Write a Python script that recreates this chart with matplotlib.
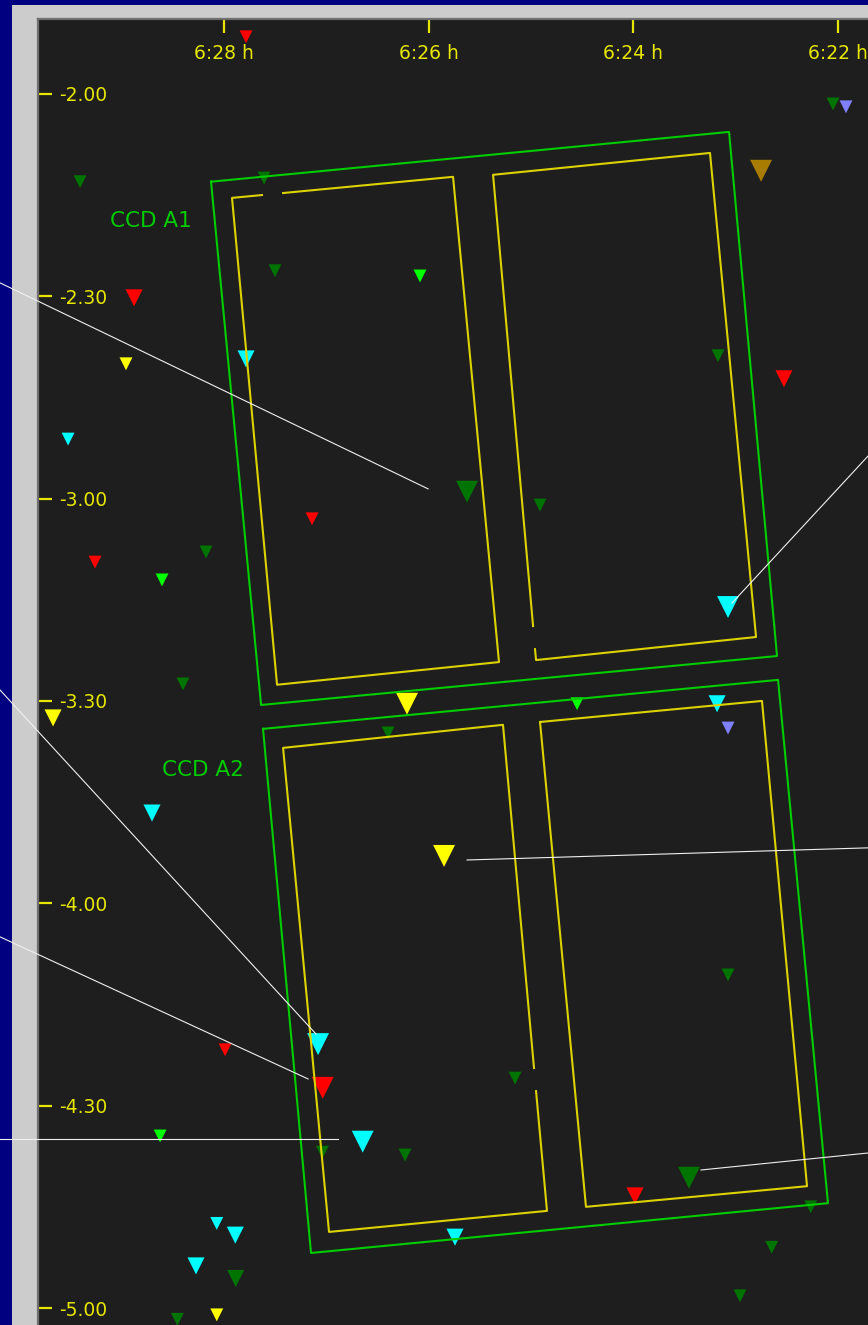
"""
Field-of-view chart: two CCDs (A1 / A2) on the sky with catalogue stars.
"""
import matplotlib
matplotlib.use("Agg")
import matplotlib.pyplot as plt
from matplotlib.patches import Rectangle

# ── Axis ticks (RA in minutes past 6h, Dec in degrees) ───────────────────────
RA_TICKS   = [28, 26, 24, 22]
RA_LABELS  = ["6:28 h", "6:26 h", "6:24 h", "6:22 h"]
DEC_TICKS  = [-2.0, -2.5, -3.0, -3.5, -4.0, -4.5, -5.0]
DEC_LABELS = ["-2.00", "-2.30", "-3.00", "-3.30", "-4.00", "-4.30", "-5.00"]
RA_LIM  = (29.818, 21.707)
DEC_LIM = (-5.042, -1.815)

# ── Stars ────────────────────────────────────────────────────────────────────
star_ra = [27.785, 22.049, 21.922, 29.407, 27.609, 22.752, 27.502, 26.085,
           28.879, 28.958, 27.785, 23.173, 22.528, 29.524, 25.625, 24.912,
           27.140, 29.261, 28.176, 28.606, 23.075, 28.401, 29.671, 26.212,
           24.550, 23.182, 23.075, 26.397, 28.704, 25.850, 23.075, 27.081,
           27.990, 27.036, 25.156, 28.625, 26.645, 27.039, 26.231, 23.456,
           23.984, 22.267, 28.071, 27.890, 25.743, 28.274, 27.886, 22.648,
           22.958, 28.456, 28.071]
star_dec = [-1.859, -2.025, -2.032, -2.217, -2.208, -2.190, -2.437, -2.450,
            -2.504, -2.667, -2.655, -2.647, -2.704, -2.853, -2.983, -3.016,
            -3.050, -3.157, -3.132, -3.201, -3.268, -3.458, -3.542, -3.507,
            -3.507, -3.507, -3.567, -3.579, -3.777, -3.883, -4.177, -4.348,
            -4.362, -4.456, -4.432, -4.575, -4.589, -4.615, -4.622, -4.678,
            -4.723, -4.750, -4.791, -4.820, -4.825, -4.896, -4.927, -4.850,
            -4.970, -5.028, -5.017]
star_kind = ["red", "dgreen", "purple", "dgreen", "dgreen", "gold", "dgreen", "green",
             "red", "yellow", "cyan", "dgreen", "red", "cyan", "dgreen", "dgreen",
             "red", "red", "dgreen", "green", "cyan", "dgreen", "yellow", "yellow",
             "green", "cyan", "purple", "dgreen", "cyan", "yellow", "dgreen", "cyan",
             "red", "red", "dgreen", "green", "cyan", "dgreen", "dgreen", "dgreen",
             "red", "dgreen", "cyan", "cyan", "cyan", "cyan", "dgreen", "dgreen",
             "dgreen", "dgreen", "yellow"]
star_class = ["s", "s", "s", "s", "s", "L", "s", "s",
              "M", "s", "M", "s", "M", "s", "L", "s",
              "s", "s", "s", "s", "L", "s", "M", "L",
              "s", "M", "s", "s", "M", "L", "s", "L",
              "s", "L", "s", "s", "L", "s", "s", "L",
              "M", "s", "s", "M", "M", "M", "M", "s",
              "s", "s", "s"]

# ── CCD outlines (outer frame + two readout halves each) ─────────────────────
a1_frame_ra  = [28.127, 23.065, 22.596, 27.638, 28.127]
a1_frame_dec = [-2.217, -2.094, -3.389, -3.510, -2.217]
a1_left_ra   = [27.423, 25.762, 25.313, 27.482, 27.922, 27.629]
a1_left_dec  = [-2.245, -2.205, -3.404, -3.460, -2.257, -2.250]
a1_right_ra  = [24.980, 25.371, 23.251, 22.801, 24.951, 24.961]
a1_right_dec = [-3.315, -2.200, -2.146, -3.342, -3.399, -3.372]

a2_frame_ra  = [27.619, 22.586, 22.098, 27.150, 27.619]
a2_frame_dec = [-3.569, -3.448, -4.741, -4.864, -3.569]
a2_left_ra   = [24.951, 24.844, 26.974, 27.423, 25.274, 24.971]
a2_left_dec  = [-4.464, -4.760, -4.812, -3.616, -3.559, -4.407]
a2_right_ra  = [24.912, 22.743, 22.303, 24.463, 24.912]
a2_right_dec = [-3.552, -3.500, -4.699, -4.750, -3.552]

# ── Leader lines (label side, star side) ─────────────────────────────────────
lead_ra0  = [30.189, 21.707, 30.189, 30.189, 30.189, 21.707, 21.707]
lead_dec0 = [-2.467, -2.895, -3.473, -4.083, -4.582, -3.863, -4.617]
lead_ra1  = [26.006, 23.036, 27.101, 27.179, 26.886, 25.625, 23.339]
lead_dec1 = [-2.976, -3.258, -4.323, -4.434, -4.582, -3.893, -4.659]

# ── Styles ───────────────────────────────────────────────────────────────────
COLORS = {"red": "#ff0000", "dgreen": "#007400", "green": "#00ff00",
          "cyan": "#00ffff", "yellow": "#ffff00", "purple": "#8080ff",
          "gold": "#a87c00"}
SIZES  = {"s": 9.3, "M": 12.3, "L": 15.8}
BG      = "#1e1e1e"
TXT     = "#e6e600"
FRAME_G = "#00cc00"
HALF_Y  = "#dcd200"

W, H = 868, 1325
fig = plt.figure(figsize=(W / 100, H / 100), dpi=100, facecolor="#000080")
# grey window frame
fig.patches.append(Rectangle((12 / W, 0), 26 / W, 1 - 5 / H, transform=fig.transFigure,
                             facecolor="#cccccc", edgecolor="none", zorder=-5))
fig.patches.append(Rectangle((12 / W, 1 - 19 / H), 1, 14 / H, transform=fig.transFigure,
                             facecolor="#cccccc", edgecolor="none", zorder=-5))

ax = fig.add_axes([38 / W, 0, 1 - 38 / W, 1 - 19 / H])
ax.set_facecolor(BG)
ax.set_xlim(*RA_LIM)
ax.set_ylim(*DEC_LIM)

for side in ("right", "bottom"):
    ax.spines[side].set_visible(False)
for side in ("left", "top"):
    ax.spines[side].set_color("#6e6e6e")
    ax.spines[side].set_linewidth(1.6)

# ticks drawn inside the plot area
ax.xaxis.tick_top()
ax.set_xticks(RA_TICKS, RA_LABELS, va="center")
ax.set_yticks(DEC_TICKS, DEC_LABELS, ha="left")
ax.tick_params(axis="x", direction="in", length=10, width=1.6, color=TXT,
               labelcolor=TXT, labelsize=13.5, pad=-25)
ax.tick_params(axis="y", direction="in", length=10, width=1.6, color=TXT,
               labelcolor=TXT, labelsize=13.5, pad=-15)

# stars
ax.scatter(star_ra, star_dec, marker="v",
           s=[SIZES[c] ** 2 for c in star_class],
           c=[COLORS[k] for k in star_kind], linewidths=0, zorder=2)

# CCD outlines
ax.plot(a1_frame_ra, a1_frame_dec, color=FRAME_G, lw=1.5, zorder=3)
ax.plot(a2_frame_ra, a2_frame_dec, color=FRAME_G, lw=1.5, zorder=3)
for xs, ys in [(a1_left_ra, a1_left_dec), (a1_right_ra, a1_right_dec),
               (a2_left_ra, a2_left_dec), (a2_right_ra, a2_right_dec)]:
    ax.plot(xs, ys, color=HALF_Y, lw=1.5, zorder=3)

ax.text(29.114, -2.314, "CCD A1", color=FRAME_G, fontsize=15.5, ha="left", va="center")
ax.text(28.606, -3.671, "CCD A2", color=FRAME_G, fontsize=15.5, ha="left", va="center")

# leader lines to labels outside the view
for x0, y0, x1, y1 in zip(lead_ra0, lead_dec0, lead_ra1, lead_dec1):
    ax.plot([x0, x1], [y0, y1], color="#f0f0f0", lw=0.8, clip_on=False, zorder=5)

plt.savefig("out.png", dpi=100, facecolor=fig.get_facecolor())
